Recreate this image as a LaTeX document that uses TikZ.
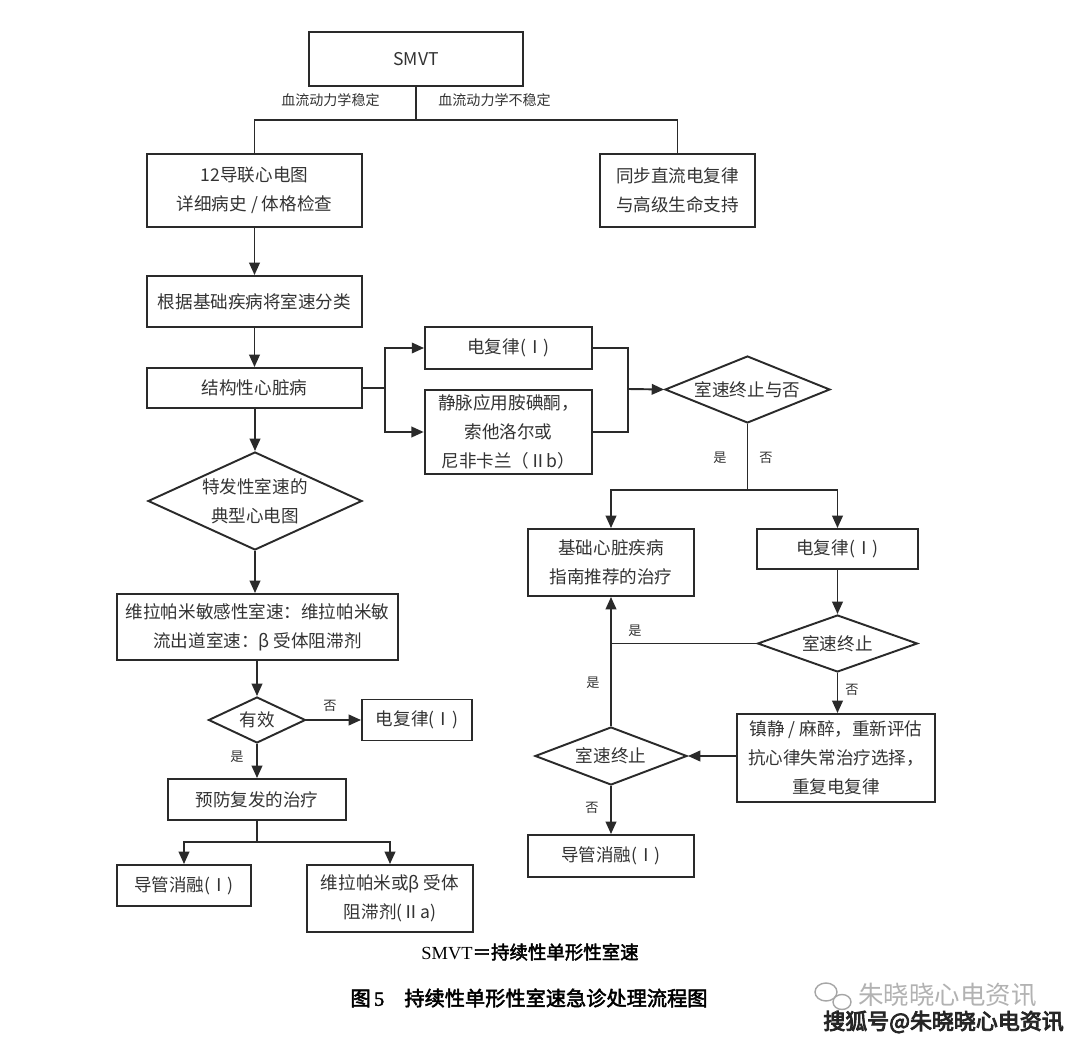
\documentclass[tikz,border=0pt]{standalone}
\usepackage{fontspec}
\usetikzlibrary{arrows.meta,shapes.geometric}
\newfontfamily\cjk{Noto Sans CJK SC}
\newfontfamily\cjkb{Noto Sans CJK SC}[FakeBold=2.5]
\newfontfamily\cjkbb{Noto Sans CJK SC}[FakeBold=4]
\newfontfamily\serifrm{Liberation Serif}
\newfontfamily\serifbd{Liberation Serif}[FakeBold=2]
\definecolor{ink}{HTML}{2A2A2A}
\definecolor{txt}{HTML}{333333}
\begin{document}
\begin{tikzpicture}[x=0.02cm,y=-0.02cm,
  box/.style={draw=ink, line width=1.1pt, rectangle, align=center, inner sep=0pt,
    text=txt, font=\cjk\fontsize{10}{16.5}\selectfont},
  dia/.style={draw=ink, line width=1.1pt, diamond, align=center, inner sep=0pt,
    text=txt, font=\cjk\fontsize{10}{16.5}\selectfont},
  conn/.style={draw=ink, line width=1.1pt},
  arr/.style={conn, -{Triangle[length=7pt,width=6pt]}},
  lab/.style={text=txt, font=\cjk\fontsize{8}{10}\selectfont, inner sep=0pt},
  yn/.style={text=txt, font=\cjk\fontsize{7.5}{9}\selectfont, inner sep=0pt}
]
\useasboundingbox[fill=white] (0,0) rectangle (1080,1044);

% top
\node[box, minimum width=4.28cm, minimum height=1.08cm] (smvt) at (416,59) {SMVT};
\node[box, minimum width=4.30cm, minimum height=1.46cm] (ecg) at (254.5,190.5) {12导联心电图\\详细病史 / 体格检查};
\node[box, minimum width=3.10cm, minimum height=1.46cm] (sync) at (677.5,190.5) {同步直流电复律\\与高级生命支持};
\coordinate (split1) at (416,120);
\draw[conn] (smvt.south) -- (split1);
\draw[conn] (ecg.north) -- (ecg.north |- split1) -- (sync.north |- split1) -- (sync.north);
\node[lab, anchor=east] (lstab) at (380,100) {血流动力学稳定};
\node[lab, anchor=west] (lunst) at (438,100) {血流动力学不稳定};

% left column
\node[box, minimum width=4.30cm, minimum height=1.02cm] (cls) at (254.5,301.5) {根据基础疾病将室速分类};
\node[box, minimum width=4.30cm, minimum height=0.80cm] (str) at (254.5,388) {结构性心脏病};
\draw[arr] (ecg.south) -- (cls.north);
\draw[arr] (cls.south) -- (str.north);

\node[box, minimum width=3.34cm, minimum height=0.84cm] (ecv1) at (508.5,348) {电复律(Ⅰ)};
\node[box, line width=1.5pt, minimum width=3.34cm, minimum height=1.68cm] (iv) at (508.5,432) {静脉应用胺碘酮，\\索他洛尔或\\尼非卡兰（Ⅱb）};
\coordinate (sj) at (385,388);
\draw[conn] (str.east) -- (sj);
\draw[arr] (sj) |- (ecv1.west);
\draw[arr] (sj) |- (iv.west);
\coordinate (mj) at (628,389);
\draw[conn] (ecv1.east) -| (mj);
\draw[conn] (iv.east) -| (mj);

\node[dia, aspect=2.46, minimum width=3.30cm, minimum height=1.34cm] (d1) at (747.5,389.5) {室速终止与否};
\draw[arr] (mj) -- (d1.west);
\coordinate (sp2) at (747.5,490);
\draw[conn] (d1.south) -- (sp2);
\node[yn] (y1) at (720,458) {是};
\node[yn] (n1) at (766,458) {否};

\node[box, minimum width=3.32cm, minimum height=1.34cm] (base) at (611,562.5) {基础心脏疾病\\指南推荐的治疗};
\node[box, minimum width=3.22cm, minimum height=0.80cm] (ecv2) at (837.5,549) {电复律(Ⅰ)};
\draw[arr] (sp2) -| (base.north);
\draw[arr] (sp2) -| (ecv2.north);

\node[dia, aspect=2.8, minimum width=3.20cm, minimum height=1.14cm] (d2) at (837.5,643.5) {室速终止};
\draw[arr] (ecv2.south) -- (d2.north);
\node[box, minimum width=3.96cm, minimum height=1.76cm] (sed) at (836,758) {镇静 / 麻醉，重新评估\\抗心律失常治疗选择，\\重复电复律};
\draw[arr] (d2.south) -- (d2.south |- sed.north);
\node[yn] (n2) at (852,690) {否};

\node[dia, aspect=2.62, minimum width=3.04cm, minimum height=1.16cm] (d3) at (611,756) {室速终止};
\draw[arr] (sed.west |- d3.east) -- (d3.east);
\draw[arr] (d3.north) -- (base.south);
\draw[conn] (d2.west) -- (d2.west -| base.south);
\node[yn] (y2) at (635,631) {是};
\node[yn] (y3) at (593,683) {是};

\node[box, minimum width=3.32cm, minimum height=0.84cm] (abl2) at (611,856) {导管消融(Ⅰ)};
\draw[arr] (d3.south) -- (abl2.north);
\node[yn] (n3) at (592,808) {否};

% left lower
\node[dia, aspect=2.18, minimum width=4.28cm, minimum height=1.96cm] (d4) at (255,501) {特发性室速的\\典型心电图};
\draw[arr] (str.south -| d4.north) -- (d4.north);
\node[box, minimum width=5.62cm, minimum height=1.32cm] (vera) at (257.5,627) {维拉帕米敏感性室速：维拉帕米敏\\流出道室速：β 受体阻滞剂};
\draw[arr] (d4.south) -- (d4.south |- vera.north);
\node[dia, aspect=2.1, minimum width=1.94cm, minimum height=0.92cm] (d5) at (257,720) {有效};
\draw[arr] (vera.south -| d5.north) -- (d5.north);
\node[box, minimum width=2.20cm, minimum height=0.82cm] (ecv3) at (417,720) {电复律(Ⅰ)};
\draw[arr] (d5.east) -- (ecv3.west);
\node[yn] (n4) at (330,706) {否};
\node[box, minimum width=3.56cm, minimum height=0.82cm] (prev) at (257,799.5) {预防复发的治疗};
\draw[arr] (d5.south) -- (prev.north);
\node[yn] (y4) at (237,757) {是};
\node[box, minimum width=2.68cm, minimum height=0.82cm] (abl1) at (184,885.5) {导管消融(Ⅰ)};
\node[box, minimum width=3.32cm, minimum height=1.34cm] (vb) at (390,898.5) {维拉帕米或β 受体\\阻滞剂(Ⅱa)};
\coordinate (sp3) at (257,842);
\draw[conn] (prev.south) -- (sp3);
\draw[arr] (sp3) -| (abl1.north);
\draw[arr] (sp3) -| (vb.north);

% captions
\node[inner sep=0pt, text=black] (cap1) at (530,952) {\fontsize{10.5}{12}\selectfont\serifrm SMVT\cjkb ＝持续性单形性室速};
\node[inner sep=0pt, text=black] (cap2) at (529,998) {\fontsize{11.5}{13}\selectfont\cjkb 图\,\serifbd 5\cjkb\quad 持续性单形性室速急诊处理流程图};

% watermark
\draw[black!35, line width=0.8pt] (826,992) ellipse [x radius=11, y radius=9];
\draw[black!35, line width=0.8pt, fill=white] (842,1002) ellipse [x radius=9, y radius=7.5];
\node[inner sep=0pt, anchor=west, text=black!30] (wm1) at (858,995) {\fontsize{14.5}{16}\selectfont\cjk 朱晓晓心电资讯};
\node[inner sep=0pt, anchor=west, text=black!85] (wm2) at (823,1022) {\fontsize{12.5}{14}\selectfont\cjkbb 搜狐号@朱晓晓心电资讯};
\end{tikzpicture}
\end{document}
